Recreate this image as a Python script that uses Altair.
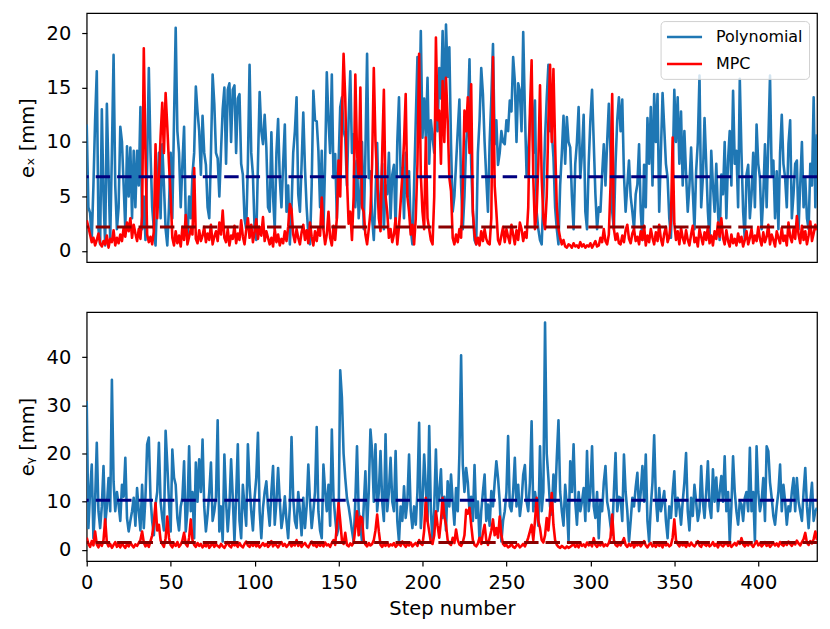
import altair as alt
import pandas as pd

# ---- data ----
ex_poly = [
    11.6, 4, 3.5, 1, 6, 12, 16.5, 2, 0.6, 13,
    5, 0.5, 13.5, 7, 1, 9, 18, 6, 2, 4,
    11.4, 10, 6, 2, 9.6, 5, 9.5, 3, 9.2, 4,
    9.2, 6, 13.2, 2, 5, 1, 8, 16.8, 9, 4,
    2, 0.5, 5, 9, 3, 9.8, 6, 2, 0.5, 4,
    9, 3, 12, 20.5, 11, 9, 4, 8, 11.4, 3,
    1, 5, 3, 7, 9, 15.1, 12.8, 11, 7, 12.4,
    9, 7.9, 4, 3, 9, 16.2, 13.5, 9, 8.5, 5,
    9.2, 13, 15, 8, 14.8, 15.4, 10, 14.8, 15.2, 9,
    14, 14.4, 8, 7, 3, 2, 8, 17.1, 9, 7,
    2, 1, 8, 14.6, 11, 9.8, 12.5, 9.5, 4, 3.6,
    10.9, 5, 2, 9, 12.1, 6.6, 4, 8, 11.6, 3.6,
    6, 0.6, 4, 9, 11, 14.1, 5.2, 3.6, 8, 12.7,
    7.6, 4, 1.5, 0.6, 6, 14.7, 12, 11.9, 9.2, 4,
    9.2, 2, 8, 16.4, 12, 9, 16.2, 6.7, 8.9, 3,
    8, 13.2, 14.1, 11, 10.4, 6, 12, 16.5, 9, 10.7,
    4, 8.3, 3, 5.2, 10, 2, 9, 18.1, 6.7, 7.3,
    3, 1, 5, 9.9, 4, 3.6, 8, 2, 6, 5.2,
    9, 3, 7, 7.9, 2, 10, 14.1, 7, 7.6, 3,
    9, 5, 7.3, 2, 0.6, 6, 12, 17.8, 11, 20.2,
    10.4, 14, 10.4, 15.9, 8, 12, 10.4, 9, 13.8, 11,
    16.8, 14, 20.2, 12, 20.8, 16, 18.7, 9.8, 3.6, 5,
    8, 11, 13.9, 6, 2, 5, 9.8, 12, 17.6, 8,
    3.6, 1, 0.6, 9, 12, 16.8, 14.4, 10, 6.7, 3.6,
    10, 14, 19, 9.8, 12, 7.9, 9, 11, 10, 9.8,
    12, 11, 13.8, 12.8, 17.8, 15.6, 10, 15.4, 14.7, 11,
    20.1, 12.8, 7, 9.2, 12, 14.7, 9, 13.8, 3.6, 2,
    1, 0.6, 5, 10.4, 14, 17.1, 11, 11, 8.6, 4,
    2, 0.6, 6, 9, 12.4, 8, 12.3, 10, 9.5, 5,
    2, 8, 10, 13.2, 6.7, 9, 12.5, 3.6, 2, 8,
    12, 14.8, 10, 5.2, 2, 4, 3.6, 7, 9.8, 6,
    10, 13.5, 9, 3.6, 2, 8, 12, 14.1, 11, 13.9,
    7, 3.6, 6, 8.3, 5, 3.6, 2, 5.2, 6.1, 9.8,
    3.6, 1, 7.9, 4, 12.2, 8, 13.2, 6, 14.4, 10,
    14.4, 3.6, 9, 14.5, 11.3, 8, 6.7, 3, 1.2, 7,
    14.8, 10, 14.1, 8, 12.8, 6, 11, 7, 3.6, 6,
    9.5, 5.5, 2, 7.3, 10, 16.1, 4, 6.7, 12.2, 8,
    3.6, 1, 9.2, 6, 3.6, 8, 3.6, 1, 7, 5.2,
    10, 3, 8.3, 11, 6, 14.7, 8, 9.2, 4, 15.8,
    9, 3.6, 1, 7, 7.9, 3, 5.2, 9, 4, 11.6,
    8, 6.7, 2, 5, 9.8, 4, 10, 16.1, 7, 8.3,
    3, 7.3, 2, 9, 12.5, 8, 6.7, 4, 9.8, 12,
    3, 5.2, 8, 8.3, 2, 6.1, 10, 4, 6.7, 3,
    2, 8, 6, 14.1, 4, 10.7,
]

ex_mpc = [
    2.8, 2.2, 1.5, 0.8, 1.2, 0.5, 1.0, 1.6, 0.7, 0.4,
    0.9, 0.6, 1.4, 0.3, 1.1, 0.8, 1.9, 0.5, 1.2, 0.7,
    1.5, 0.9, 2.1, 1.3, 2.6, 1.8, 3.0, 1.2, 2.4, 1.6,
    0.9, 2.0, 1.1, 3.2, 18.6, 9.0, 1.5, 0.8, 1.3, 0.6,
    1.8, 9.8, 3.0, 6.5, 10.5, 13.6, 9.0, 14.5, 11.4, 8.0,
    5.0, 1.2, 0.5, 1.8, 0.7, 1.4, 0.4, 2.2, 1.0, 3.3,
    0.6, 1.3, 2.0, 1.5, 7.6, 1.1, 0.7, 1.9, 0.9, 1.4,
    2.2, 0.8, 1.6, 1.0, 2.4, 0.6, 1.3, 1.8, 0.9, 2.6,
    1.5, 3.7, 1.2, 0.8, 2.0, 0.5, 1.4, 1.1, 2.3, 0.7,
    1.6, 1.0, 2.8, 1.3, 0.6, 1.9, 3.0, 1.2, 2.4, 0.8,
    1.7, 2.9, 1.1, 2.2, 1.4, 3.1, 0.9, 1.8, 1.2, 0.6,
    1.2, 0.4, 2.0, 0.8, 1.5, 0.5, 1.1, 0.7, 1.8, 0.9,
    2.2, 4.3, 3.8, 1.5, 0.8, 2.0, 1.2, 0.6, 1.7, 2.4,
    1.0, 1.9, 0.7, 2.6, 1.3, 0.5, 1.8, 0.9, 2.1, 1.4,
    4.9, 2.0, 0.6, 1.5, 3.6, 1.2, 0.5, 2.3, 1.0, 3.0,
    8.3, 5.0, 12.0, 18.1, 14.0, 6.7, 2.5, 3.6, 1.0, 5.0,
    16.2, 9.0, 6.7, 15.0, 4.0, 3.6, 1.5, 0.6, 2.0, 3.6,
    8.0, 16.8, 10.0, 6.7, 3.0, 1.8, 9.0, 14.8, 5.0, 3.6,
    1.2, 2.0, 0.8, 1.5, 3.0, 0.6, 2.2, 4.5, 7.0, 10.0,
    14.4, 5.0, 3.6, 1.5, 2.4, 0.6, 3.0, 8.0, 18.1, 7.0,
    3.6, 2.0, 10.4, 3.0, 2.0, 1.0, 0.6, 5.0, 19.6, 12.0,
    12.9, 8.0, 15.6, 10.0, 15.9, 12.0, 6.7, 5.5, 1.2, 0.6,
    1.5, 0.8, 2.0, 1.2, 6.0, 12.9, 11.0, 14.1, 9.0, 15.3,
    3.6, 1.5, 0.6, 1.2, 0.5, 1.8, 0.9, 2.0, 1.1, 0.7,
    0.6, 3.0, 17.8, 6.0, 3.6, 1.0, 0.6, 1.4, 2.2, 0.8,
    2.0, 1.3, 0.7, 2.4, 1.5, 0.6, 1.9, 1.0, 2.6, 2.0,
    0.9, 1.7, 1.2, 4.0, 12.9, 17.5, 6.7, 2.0, 3.6, 8.0,
    15.2, 6.7, 3.0, 2.0, 5.0, 12.0, 17.1, 10.0, 16.7, 9.8,
    4.0, 2.0, 1.2, 0.6, 1.0, 0.4, 0.3, 0.6, 0.5, 0.3,
    0.7, 0.4, 0.5, 0.3, 0.8, 0.4, 0.6, 0.3, 0.5, 0.4,
    0.7, 0.3, 0.6, 0.9, 0.4, 0.5, 1.2, 0.8, 2.0, 0.9,
    0.6, 1.5, 6.0, 14.4, 2.0, 1.0, 1.6, 0.7, 0.6, 1.4,
    0.8, 1.9, 2.4, 1.1, 0.7, 1.6, 2.0, 0.9, 1.3, 0.6,
    1.8, 1.0, 2.3, 0.5, 1.4, 0.8, 2.0, 1.2, 0.6, 1.7,
    0.9, 2.4, 1.1, 0.5, 1.6, 2.2, 0.8, 1.3, 2.8, 10.4,
    2.5, 1.0, 1.8, 0.6, 2.1, 1.2, 0.7, 1.9, 1.0, 0.5,
    1.5, 2.3, 0.8, 1.2, 0.4, 2.0, 1.3, 0.6, 1.7, 1.0,
    2.2, 0.7, 1.4, 0.5, 1.8, 1.1, 2.6, 1.3, 3.0, 1.2,
    0.6, 1.9, 0.9, 0.4, 1.5, 0.7, 1.1, 0.5, 1.6, 0.8,
    1.3, 0.4, 1.0, 1.8, 0.6, 1.2, 2.0, 0.7, 1.4, 0.9,
    2.2, 1.1, 0.5, 1.7, 0.8, 1.3, 2.4, 0.6, 1.5, 1.0,
    0.4, 1.8, 1.2, 0.7, 2.1, 0.9, 1.4, 0.5, 2.6, 1.3,
    0.8, 2.0, 1.1, 3.2, 1.5, 0.7, 2.3, 1.0, 1.8, 0.6,
    1.4, 2.7, 0.9, 1.6, 2.4, 1.9,
]

ey_poly = [
    30.9, 4.5, 12, 17.7, 2.4, 10, 22.2, 8, 4.5, 9,
    17.4, 5.2, 9, 14.9, 8, 35.3, 14.2, 8, 12, 9.4,
    6, 13.5, 11, 19.1, 6.6, 3.8, 6, 8, 10.8, 5,
    12.8, 8, 4, 13.5, 4.5, 11, 21.9, 23.3, 10.8, 5.9,
    3, 9.4, 12, 22.2, 10, 6.6, 4, 24.7, 17.7, 10,
    3.8, 20.8, 15, 13.5, 6.6, 4, 9, 10.8, 18.4, 3.8,
    8, 21.5, 8, 12, 2.4, 18.1, 10, 18.8, 12, 22.9,
    9, 3.8, 7.3, 12, 18.1, 6, 8, 11, 26.9, 3.8,
    9, 1.7, 19.8, 10, 3.8, 9, 18.8, 10.8, 1.7, 11,
    21.9, 6, 2.4, 13.5, 9, 5, 21.9, 13.5, 8, 4,
    10.8, 15, 24.3, 8, 2.4, 8.7, 12, 14.2, 8.7, 5,
    12, 17.4, 5.2, 10, 17, 10.1, 4.5, 7, 11.1, 6,
    2.4, 9, 23.4, 10.8, 6, 4.5, 12, 8, 3, 10.8,
    4.5, 9, 17.7, 10, 4.5, 8, 12, 25.5, 8, 4,
    2.4, 17.7, 12.2, 8, 13.5, 5, 25, 11, 6.6, 3,
    4.5, 37.3, 31.6, 20, 14.9, 10.8, 9, 6.6, 4, 1.7,
    10, 21.5, 8, 5, 1.7, 9, 16.3, 4.5, 12, 25,
    20.5, 10, 21.9, 8, 12, 20.5, 10, 6, 24, 8,
    12, 19.1, 10, 8, 20.5, 6, 1.7, 9, 6, 13.2,
    6.6, 10, 19.8, 8, 4.5, 9, 5.2, 12, 26.4, 4.5,
    10, 19.8, 12.8, 6, 25.7, 8, 1.7, 9, 20.8, 8,
    12, 16.7, 6.6, 11, 4, 14.2, 9, 15.6, 10, 5.2,
    12.8, 8, 20, 40.4, 17.7, 12, 17, 14, 8, 11,
    6, 17.6, 6.6, 10, 1.7, 8, 12, 15.6, 6, 9.4,
    5, 12.2, 9, 14, 18.4, 14.9, 10, 1.7, 6, 8,
    12, 23.6, 9, 8, 12, 19.1, 9, 13.5, 7, 10,
    15.6, 17.6, 10, 8, 14, 26.7, 8, 12, 9.4, 5,
    21.5, 8, 12, 47.2, 20, 14.9, 9, 7.3, 15.6, 10,
    19.1, 26.9, 12, 8, 5, 13.5, 9, 1.7, 18.4, 12,
    21.9, 10, 5.2, 12, 8, 10, 12.8, 6, 20.5, 8,
    12, 21.5, 9, 6.6, 12, 2.4, 10, 8, 14, 17.4,
    10, 8, 5, 3.1, 12, 20.1, 8, 11, 10.8, 6,
    19.8, 12, 8, 1.7, 6, 10.8, 9, 13, 16, 8,
    12, 17.4, 10, 19.8, 6, 1.7, 9, 14, 23.8, 10.8,
    6, 12.8, 8, 10, 12.2, 6, 2.4, 9, 6.6, 12,
    16.3, 7, 10.8, 9, 5.2, 10, 14, 20.1, 8, 4,
    10.8, 7, 13.5, 10, 6, 8, 17.4, 10, 6.6, 12,
    18.4, 9, 6.6, 16.7, 10, 15, 8, 12, 15.3, 10,
    19.4, 8, 12, 1.7, 9, 19.4, 12, 8, 5.2, 10,
    9.4, 6, 10.8, 12, 8, 21.2, 8, 12, 1.7, 21.5,
    12, 8, 10, 14.9, 6, 21.5, 20.5, 14, 10.8, 7,
    5.2, 9, 12, 17.7, 8, 13.5, 10, 5.2, 9, 8,
    12, 14.9, 8, 14.9, 10, 8, 6, 12, 17, 9,
    4.5, 10, 13.9, 6, 8, 8.7,
]

ey_mpc = [
    2.5, 1.2, 0.6, 1.8, 0.9, 3.8, 1.1, 0.5, 1.4, 0.8,
    2.0, 6.3, 1.5, 0.7, 1.2, 0.4, 1.0, 1.6, 0.6, 1.1,
    0.5, 1.3, 0.8, 0.4, 1.2, 0.7, 1.5, 0.9, 0.5, 1.1,
    0.8, 1.4, 2.0, 3.8, 1.5, 0.7, 1.2, 0.6, 1.8, 3.0,
    5.5, 9.7, 4.0, 5.2, 2.0, 1.2, 0.6, 2.4, 6.9, 2.5,
    1.0, 0.5, 1.3, 0.8, 1.6, 0.6, 1.1, 1.9, 3.5, 1.2,
    0.7, 2.5, 6.3, 2.0, 1.0, 0.6, 1.4, 0.8, 1.2, 0.5,
    1.0, 0.7, 1.5, 0.4, 0.9, 1.3, 0.6, 1.1, 0.8, 0.5,
    1.2, 0.7, 0.4, 1.0, 1.6, 0.8, 0.5, 1.3, 0.9, 1.1,
    0.6, 1.4, 0.8, 0.5, 1.2, 1.7, 0.9, 0.6, 1.3, 0.8,
    1.5, 0.7, 1.1, 0.5, 0.9, 1.4, 0.8, 1.2, 0.6, 1.0,
    1.8, 0.7, 1.3, 0.9, 0.5, 1.1, 1.6, 0.8, 1.2, 0.6,
    1.0, 1.5, 0.7, 1.2, 0.9, 2.0, 0.8, 1.3, 0.6, 1.1,
    1.4, 0.8, 0.5, 1.2, 1.7, 0.9, 1.0, 0.6, 1.3, 0.8,
    1.2, 0.7, 1.5, 0.9, 1.1, 0.6, 1.4, 2.0, 1.0, 5.0,
    9.7, 6.0, 2.0, 1.2, 3.5, 1.0, 0.7, 1.3, 0.9, 1.5,
    4.5, 8.0, 3.0, 6.9, 6.6, 2.0, 1.1, 0.7, 1.4, 0.9,
    1.2, 2.0, 4.0, 7.3, 3.8, 1.0, 0.6, 1.2, 0.8, 1.5,
    0.7, 1.1, 0.9, 1.4, 0.6, 1.0, 1.3, 0.8, 1.7, 1.1,
    0.6, 1.2, 0.9, 1.5, 0.7, 1.1, 1.4, 0.8, 2.0, 1.3,
    1.0, 4.0, 10.8, 6.0, 3.8, 1.5, 1.2, 3.0, 8.0, 5.0,
    2.5, 6.0, 10.8, 7.0, 5.2, 2.0, 1.3, 1.0, 2.5, 1.4,
    4.2, 2.0, 1.1, 0.8, 1.5, 3.0, 8.3, 7.5, 8.7, 5.2,
    2.0, 1.0, 0.7, 1.3, 2.5, 1.2, 3.5, 5.2, 2.0, 1.0,
    2.5, 4.0, 6.3, 3.0, 4.5, 2.5, 6.9, 3.0, 1.2, 0.8,
    1.0, 0.5, 0.7, 1.2, 0.6, 0.4, 0.9, 1.1, 0.5, 0.8,
    1.2, 0.7, 1.5, 2.5, 3.8, 5.2, 2.0, 6.0, 10.8, 6.0,
    4.5, 2.0, 1.5, 3.0, 6.6, 4.0, 8.0, 11.8, 5.2, 2.0,
    1.0, 0.6, 0.4, 0.8, 0.5, 0.3, 0.7, 0.4, 0.6, 0.9,
    1.2, 0.6, 1.0, 0.5, 1.4, 0.8, 1.1, 0.6, 1.5, 0.9,
    1.3, 0.7, 2.4, 1.0, 0.6, 1.2, 0.9, 1.5, 0.7, 1.1,
    0.8, 1.4, 2.5, 7.3, 2.0, 1.0, 0.7, 1.3, 0.9, 1.6,
    2.4, 1.0, 0.6, 1.2, 0.8, 1.5, 0.5, 1.1, 0.9, 1.3,
    0.7, 1.2, 1.8, 0.9, 0.5, 1.1, 1.4, 0.7, 1.0, 0.6,
    1.3, 0.8, 1.1, 0.5, 1.5, 0.9, 1.2, 0.7, 1.0, 2.5,
    6.3, 2.0, 1.2, 0.7, 1.4, 0.9, 1.1, 0.6, 1.3, 0.8,
    1.5, 1.0, 0.7, 1.2, 1.8, 0.9, 0.6, 1.4, 1.1, 0.8,
    1.3, 0.7, 1.0, 1.6, 0.8, 1.2, 0.5, 1.4, 1.0, 0.7,
    1.1, 1.5, 0.8, 1.2, 0.6, 1.0, 1.4, 0.9, 1.7, 1.2,
    2.4, 1.1, 0.7, 1.3, 0.9, 1.5, 1.0, 0.6, 1.2, 1.8,
    0.9, 1.3, 0.7, 1.1, 1.6, 0.8, 1.2, 0.6, 1.0, 1.4,
    0.9, 1.3, 0.7, 1.6, 1.1, 0.8, 1.4, 1.0, 1.7, 1.2,
    0.8, 1.5, 1.1, 1.9, 1.3, 0.9, 1.6, 2.2, 3.5, 1.4,
    1.0, 1.8, 1.3, 2.2, 3.8, 2.0,
]

series_names = ["Polynomial", "MPC"]
series_colors = ["#1f77b4", "#ff0000"]
mean_top = [6.8, 2.2]      # Polynomial mean, MPC mean (e_x)
mean_bottom = [10.3, 1.5]  # Polynomial mean, MPC mean (e_y)
mean_colors = ["#000080", "#8b0000"]
x_ticks = [0, 50, 100, 150, 200, 250, 300, 350, 400]
top_ticks = [0, 5, 10, 15, 20]
bottom_ticks = [0, 10, 20, 30, 40]
X_MAX = 435

FONT = "DejaVu Sans"


def long_df(poly, mpc):
    rows = []
    for i, v in enumerate(poly):
        rows.append({"step": i, "value": v, "series": "Polynomial"})
    for i, v in enumerate(mpc):
        rows.append({"step": i, "value": v, "series": "MPC"})
    return pd.DataFrame(rows)


def panel(poly, mpc, means, ydomain, yticks, ytitle, show_x, show_legend):
    df = long_df(poly, mpc)
    xscale = alt.Scale(domain=[0, X_MAX], nice=False, zero=False)
    if show_x:
        xaxis = alt.Axis(values=x_ticks, title="Step number", labelPadding=8,
                         titlePadding=7, labelFlush=False)
    else:
        xaxis = None
    yaxis = alt.Axis(values=yticks, title=ytitle, labelPadding=11, titlePadding=9)
    yscale = alt.Scale(domain=ydomain, nice=False, zero=False)
    if show_legend:
        legend = alt.Legend(
            title=None, orient="top-right", offset=8,
            symbolType="M-1.2,0L3.2,0", symbolSize=256, symbolStrokeWidth=2.6,
            labelFontSize=16, labelFont=FONT, labelColor="black",
            labelOffset=30, rowPadding=9, padding=6.5,
            fillColor="rgba(255,255,255,0.8)", strokeColor="#d0d0d0",
            cornerRadius=4,
        )
    else:
        legend = None
    color = alt.Color("series:N",
                      scale=alt.Scale(domain=series_names, range=series_colors),
                      legend=legend)
    base = alt.Chart(df)
    lines = []
    for name in series_names:
        lines.append(
            base.transform_filter(alt.datum.series == name)
            .mark_line(strokeWidth=2.6, strokeJoin="round", clip=True)
            .encode(
                x=alt.X("step:Q", scale=xscale, axis=xaxis),
                y=alt.Y("value:Q", scale=yscale, axis=yaxis),
                color=color,
            )
        )
    rules = []
    for m, c in zip(means, mean_colors):
        rules.append(
            alt.Chart(pd.DataFrame({"mean": [m]}))
            .mark_rule(strokeWidth=3, strokeDash=[14.5, 7])
            .encode(y=alt.Y("mean:Q", scale=yscale), color=alt.value(c))
        )
    return alt.layer(*lines, *rules).properties(width=733, height=250)


top = panel(ex_poly, ex_mpc, mean_top, [-1.04, 21.84], top_ticks,
            "eₓ [mm]", False, True)
bottom = panel(ey_poly, ey_mpc, mean_bottom, [-2.36, 49.4], bottom_ticks,
               "eᵧ [mm]", True, False)

chart = (
    alt.vconcat(top, bottom, spacing=48)
    .resolve_scale(color="independent")
    .resolve_legend(color="independent")
    .properties(padding={"left": 8, "top": 3, "right": 2, "bottom": 0},
                background="white")
    .configure_view(stroke="black", strokeWidth=1.25)
    .configure_axis(
        labelFont=FONT, titleFont=FONT, labelFontSize=19.5, titleFontSize=19.5,
        labelColor="black", titleColor="black", titleFontWeight="normal",
        tickColor="black", tickSize=5, tickWidth=1.2, domain=False, grid=False,
    )
)

chart.save("out.html", embed_options={"renderer": "svg", "actions": False})
